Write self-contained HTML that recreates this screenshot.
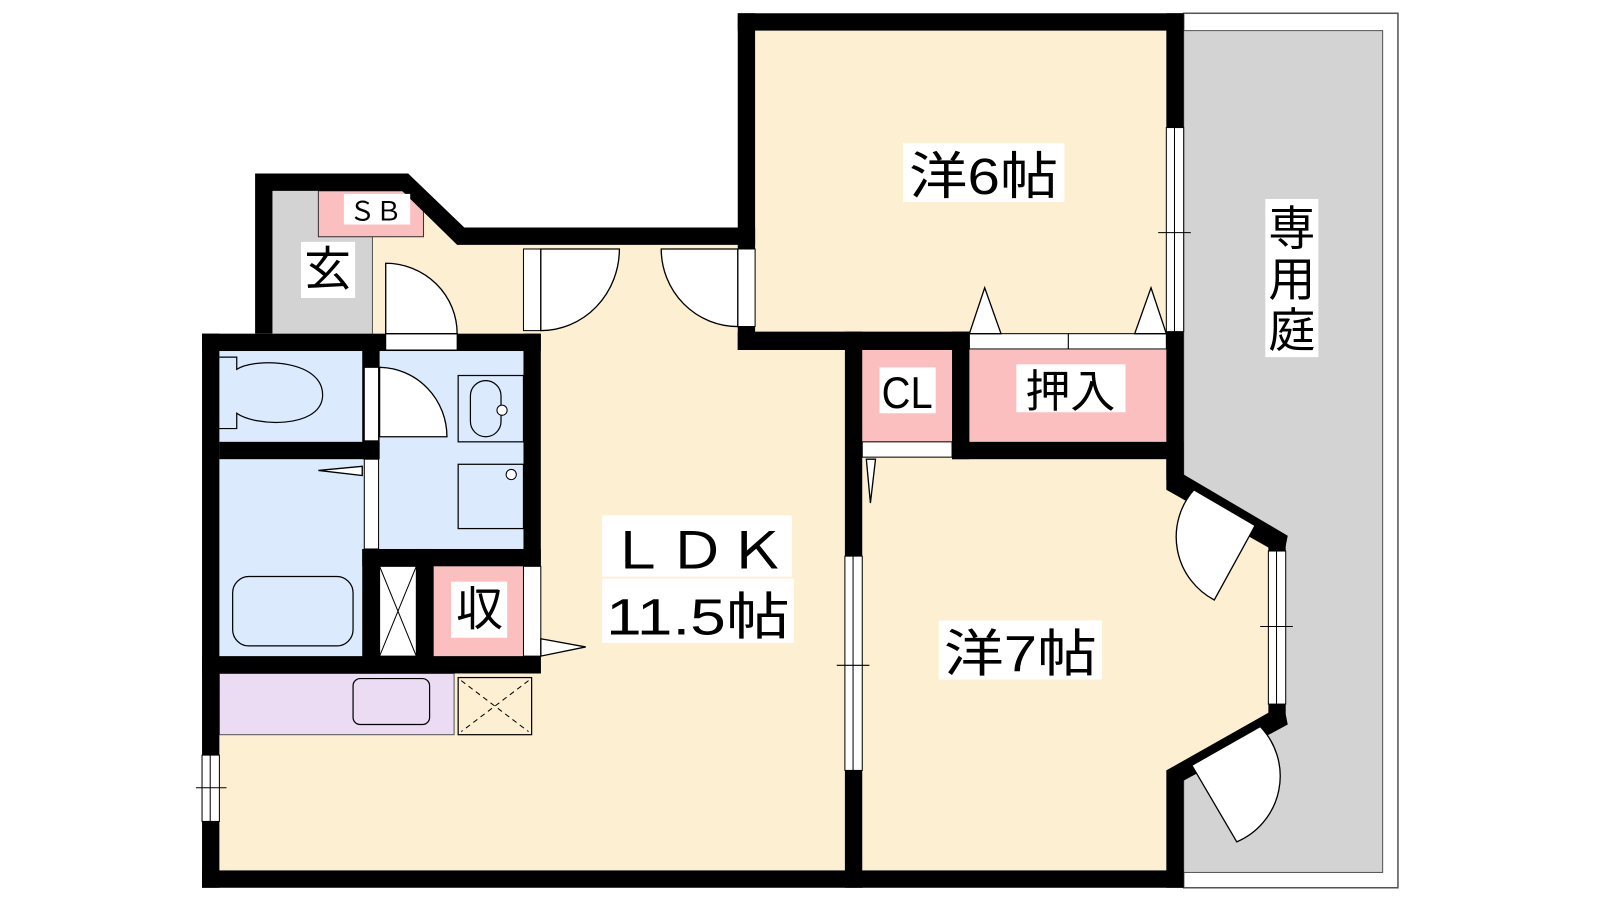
<!DOCTYPE html>
<html><head><meta charset="utf-8"><style>
html,body{margin:0;padding:0;background:#fff;width:1600px;height:900px;overflow:hidden}
svg{display:block}
text{font-family:"Liberation Sans","Noto Sans CJK JP",sans-serif;fill:#000}
</style></head><body>
<svg width="1600" height="900" viewBox="0 0 1568 882" xmlns="http://www.w3.org/2000/svg">
<!-- garden -->
<rect x="1160" y="13" width="210" height="857" fill="#fff" stroke="#555" stroke-width="1.5"/>
<rect x="1160" y="30" width="195" height="825" fill="#d3d3d3" stroke="#555" stroke-width="1"/>
<!-- floors -->
<polygon points="267,187 400,187 450,240 740,240 740,30 1143,30 1143,470 1250,530 1250,700 1143,755 1143,853 215,853 215,343 267,343" fill="#fdf0d2"/>
<rect x="267" y="187" width="98" height="140" fill="#d3d3d3"/>
<line x1="365" y1="205" x2="365" y2="327" stroke="#555" stroke-width="1"/>
<rect x="312" y="187" width="103" height="45" fill="#fcbfbf" stroke="#333" stroke-width="1"/>
<!-- blue bathroom -->
<rect x="215" y="343" width="298" height="300" fill="#dbeafd"/>
<rect x="425" y="555" width="88" height="88" fill="#fcbfbf"/>
<rect x="372" y="555" width="36" height="88" fill="#fff" stroke="#000" stroke-width="1"/>
<line x1="372" y1="555" x2="408" y2="643" stroke="#000" stroke-width="1"/>
<line x1="408" y1="555" x2="372" y2="643" stroke="#000" stroke-width="1"/>
<!-- kitchen -->
<rect x="215" y="660" width="230" height="60" fill="#ecdcf3" stroke="#555" stroke-width="1"/>
<rect x="346" y="665" width="75" height="45" rx="7" fill="#ecdcf3" stroke="#000" stroke-width="1.2"/>
<rect x="449" y="664" width="72" height="56" fill="#fdf0d2" stroke="#000" stroke-width="1.2"/>
<line x1="452" y1="667" x2="518" y2="717" stroke="#000" stroke-dasharray="5,4"/>
<line x1="518" y1="667" x2="452" y2="717" stroke="#000" stroke-dasharray="5,4"/>
<!-- closets -->
<rect x="845" y="343" width="88" height="90" fill="#fcbfbf"/>
<rect x="950" y="343" width="193" height="90" fill="#fcbfbf"/>
<!-- fixtures -->
<path d="M215,350 H232 V362 C250,350 320,352 316,390 C312,420 250,418 232,405 V420 H215" fill="#dbeafd" stroke="#000" stroke-width="1.2"/>
<rect x="449" y="368" width="64" height="65" fill="#dbeafd" stroke="#000" stroke-width="1.2"/>
<rect x="461" y="373" width="30" height="55" rx="15" fill="none" stroke="#000" stroke-width="1.2"/>
<circle cx="492" cy="402" r="5" fill="#fff" stroke="#000"/>
<rect x="449" y="455" width="64" height="63" fill="#dbeafd" stroke="#000" stroke-width="1.2"/>
<circle cx="501" cy="465" r="5" fill="#fff" stroke="#000"/>
<rect x="228" y="565" width="118" height="68" rx="16" fill="#dbeafd" stroke="#000" stroke-width="1.2"/>
<!-- walls -->
<g fill="#000">
<polygon points="250,170 400,170 455,223 740,223 740,240 448,240 394,187 267,187 267,327 250,327"/>
<rect x="198" y="327" width="332" height="17"/>
<rect x="198" y="327" width="17" height="543"/>
<rect x="198" y="853" width="962" height="17"/>
<rect x="723" y="13" width="437" height="17"/>
<rect x="723" y="13" width="17" height="330"/>
<rect x="723" y="325" width="227" height="18"/>
<rect x="1143" y="13" width="17" height="457"/>
<rect x="828" y="325" width="17" height="545"/>
<rect x="933" y="325" width="17" height="125"/>
<rect x="933" y="433" width="227" height="17"/>
<polygon points="1143,450 1160,450 1160,465 1262,525 1258,545 1143,480"/>
<polygon points="1243,530 1260,530 1260,700 1243,700"/>
<polygon points="1258,690 1262,710 1160,765 1160,870 1143,870 1143,755"/>
<rect x="355" y="343" width="17" height="107"/>
<rect x="215" y="433" width="157" height="17"/>
<rect x="513" y="327" width="17" height="333"/>
<rect x="355" y="538" width="175" height="17"/>
<rect x="355" y="538" width="17" height="122"/>
<rect x="408" y="538" width="17" height="122"/>
<rect x="198" y="643" width="332" height="17"/>
</g>
<!-- windows / door openings (white) -->
<g fill="#fff" stroke="#000" stroke-width="1">
<rect x="198" y="740" width="17" height="65"/>
<rect x="828" y="545" width="17" height="210"/>
<rect x="1143" y="125" width="17" height="200"/>
<rect x="1243" y="540" width="17" height="150"/>
<rect x="513" y="244" width="17" height="80"/>
<rect x="723" y="244" width="17" height="76"/>
<rect x="378" y="327" width="70" height="16"/>
<rect x="357" y="360" width="14" height="72"/>
<rect x="357" y="450" width="14" height="88"/>
<rect x="513" y="555" width="17" height="88"/>
<rect x="845" y="433" width="88" height="15"/>
<rect x="950" y="327" width="97" height="15"/>
<rect x="1047" y="327" width="96" height="15"/>
</g>
<g stroke="#000" stroke-width="1" fill="none">
<line x1="206" y1="740" x2="206" y2="805"/><line x1="192" y1="772" x2="222" y2="772"/>
<line x1="836" y1="545" x2="836" y2="755"/><line x1="820" y1="652" x2="852" y2="652"/>
<line x1="1151" y1="125" x2="1151" y2="325"/><line x1="1135" y1="228" x2="1167" y2="228"/>
<line x1="1251" y1="540" x2="1251" y2="690"/><line x1="1235" y1="614" x2="1267" y2="614"/>
</g>
<!-- door swings -->
<g fill="#fff" stroke="#000" stroke-width="1.3">
<path d="M530,324 V244 H607 A77,80 0 0 1 530,324 Z"/>
<path d="M723,320 V244 H648 A75,76 0 0 0 723,320 Z"/>
<path d="M378,327 V258 A70,69 0 0 1 448,327 Z"/>
<path d="M372,428 V360 A67,68 0 0 1 438,428 Z"/>
<polygon points="355,457 312,461 355,466"/>
<polygon points="530,626 574,634 530,643"/>
<polygon points="849,450 858,450 853,493"/>
<polygon points="950,327 965,282 981,327"/>
<polygon points="1112,327 1128,282 1143,327"/>
<path d="M1170,480 L1230,515 L1190,588 A70,70 0 0 1 1170,480 Z"/>
<path d="M1168,750 L1235,712 A70,70 0 0 1 1212,825 Z"/>
</g>
<!-- labels -->
<g>
<rect x="885" y="140" width="158" height="58" fill="#fff"/>
<text x="964" y="190" font-size="50" text-anchor="middle" textLength="146" lengthAdjust="spacingAndGlyphs">洋6帖</text>
<rect x="920" y="608" width="160" height="58" fill="#fff"/>
<text x="1000" y="658" font-size="50" text-anchor="middle" textLength="150" lengthAdjust="spacingAndGlyphs">洋7帖</text>
<rect x="590" y="505" width="186" height="60" fill="#fff"/>
<text x="683" y="557" font-size="50" text-anchor="middle" textLength="176" lengthAdjust="spacingAndGlyphs">ＬＤＫ</text>
<rect x="590" y="567" width="188" height="63" fill="#fff"/>
<text x="684" y="622" font-size="50" text-anchor="middle" textLength="180" lengthAdjust="spacingAndGlyphs">11.5帖</text>
<rect x="1240" y="195" width="52" height="155" fill="#fff"/>
<text x="1266" y="240" font-size="46" text-anchor="middle">専</text>
<text x="1266" y="290" font-size="46" text-anchor="middle">用</text>
<text x="1266" y="340" font-size="46" text-anchor="middle">庭</text>
<rect x="862" y="360" width="55" height="45" fill="#fff"/>
<text x="889" y="400" font-size="44" text-anchor="middle" textLength="50" lengthAdjust="spacingAndGlyphs">CL</text>
<rect x="996" y="357" width="107" height="47" fill="#fff"/>
<text x="1049" y="399" font-size="44" text-anchor="middle">押入</text>
<rect x="442" y="570" width="55" height="55" fill="#fff"/>
<text x="470" y="613" font-size="46" text-anchor="middle">収</text>
<rect x="295" y="237" width="53" height="55" fill="#fff"/>
<text x="321" y="280" font-size="46" text-anchor="middle">玄</text>
<rect x="337" y="190" width="65" height="30" fill="#fff"/>
<text x="368" y="216" font-size="26" text-anchor="middle">ＳＢ</text>
</g>
</svg>
</body></html>
